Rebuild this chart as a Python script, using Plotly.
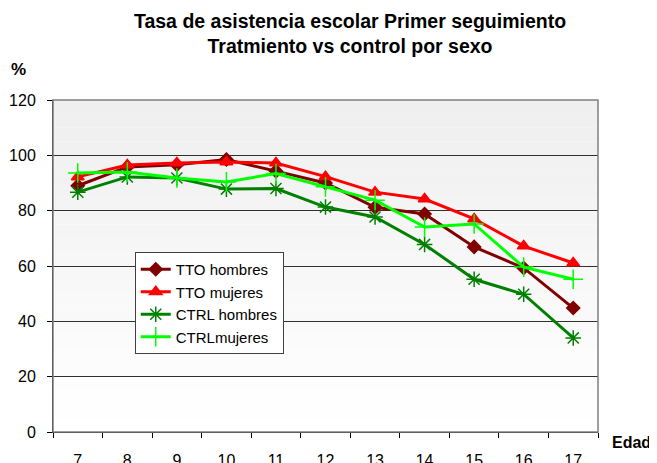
import plotly.graph_objects as go

edad = ["7", "8", "9", "10", "11", "12", "13", "14", "15", "16", "17"]
tto_hombres = [89.0, 95.8, 96.6, 98.5, 94.3, 90.0, 81.2, 78.8, 66.9, 59.3, 44.8]
tto_mujeres = [92.2, 96.5, 97.2, 97.6, 97.2, 92.3, 86.7, 84.2, 77.0, 67.2, 61.1]
ctrl_hombres = [86.7, 92.2, 91.8, 87.8, 88.0, 81.3, 77.7, 67.8, 55.2, 49.8, 34.0]
ctrl_mujeres = [93.6, 94.0, 91.8, 90.4, 93.4, 88.6, 83.8, 74.1, 75.2, 59.6, 55.2]
y_ticks = [0, 20, 40, 60, 80, 100, 120]

font = "Liberation Sans, Arial, sans-serif"
fig = go.Figure()
series = [
    ("TTO hombres", tto_hombres, "#800000", "diamond", 10),
    ("TTO mujeres", tto_mujeres, "#FF0000", "triangle-up", 11),
    ("CTRL hombres", ctrl_hombres, "#008000", "asterisk-open", 13),
    ("CTRLmujeres", ctrl_mujeres, "#00FF00", "cross-thin-open", 14),
]
for name, vals, col, sym, sz in series:
    fig.add_trace(go.Scatter(
        x=edad, y=vals, name=name, mode="lines+markers",
        line=dict(color=col, width=3),
        marker=dict(symbol=sym, size=sz, color=col,
                    line=dict(color=col, width=1.5)),
    ))

# gradient background of plot area
n = 24
shapes = []
for i in range(n):
    t = i / (n - 1)
    v = int(round(0xEF + (0xFF - 0xEF) * t))
    c = f"rgb({v},{v},{v})"
    shapes.append(dict(type="rect", xref="paper", yref="paper",
                       x0=0, x1=1, y0=1 - (i + 1) / n, y1=1 - i / n,
                       fillcolor=c, line=dict(width=0), layer="below"))
shapes.append(dict(type="rect", xref="paper", yref="paper", x0=0, x1=1, y0=0, y1=1,
                   line=dict(color="#808080", width=1.5), fillcolor="rgba(0,0,0,0)",
                   layer="above"))

fig.update_layout(
    width=649, height=455,
    margin=dict(l=45, r=59, t=92, b=31, autoexpand=False),
    paper_bgcolor="white", plot_bgcolor="rgba(0,0,0,0)",
    font=dict(family=font, size=15, color="black"),
    title=dict(text="<b>Tasa de asistencia escolar Primer seguimiento<br>Tratmiento vs control por sexo</b>",
               x=0.527, xanchor="center", y=0.956, yanchor="top",
               font=dict(family=font, size=19.5, color="black")),
    shapes=shapes,
    showlegend=True,
    legend=dict(x=0.150, y=0.542, xanchor="left", yanchor="top",
                bgcolor="white", bordercolor="#404040", borderwidth=1,
                font=dict(family=font, size=15, color="black"),
                tracegroupgap=0, itemwidth=30),
    xaxis=dict(type="category", range=[-0.5, len(edad) - 0.5], showgrid=False,
               showline=True, linecolor="black",
               linewidth=1, ticks="outside", tickson="boundaries", ticklen=5,
               tickcolor="black", ticklabelstandoff=14, zeroline=False,
               tickfont=dict(family=font, size=16)),
    yaxis=dict(range=[0, 120], tickvals=y_ticks, showgrid=True, gridcolor="#303030",
               gridwidth=1, showline=True, linecolor="black", linewidth=1,
               ticks="outside", ticklen=5, tickcolor="black", zeroline=False,
               ticklabelstandoff=8, tickfont=dict(family=font, size=16)),
    annotations=[
        dict(text="<b>%</b>", xref="paper", yref="paper", x=-0.0624, y=1.093,
             xanchor="center", yanchor="middle",
             showarrow=False, font=dict(family=font, size=17)),
        dict(text="<b>Edad</b>", xref="paper", yref="paper", x=1.022, y=-0.033,
             xanchor="left", yanchor="middle",
             showarrow=False, font=dict(family=font, size=16)),
    ],
)
fig.write_html("out.html")
